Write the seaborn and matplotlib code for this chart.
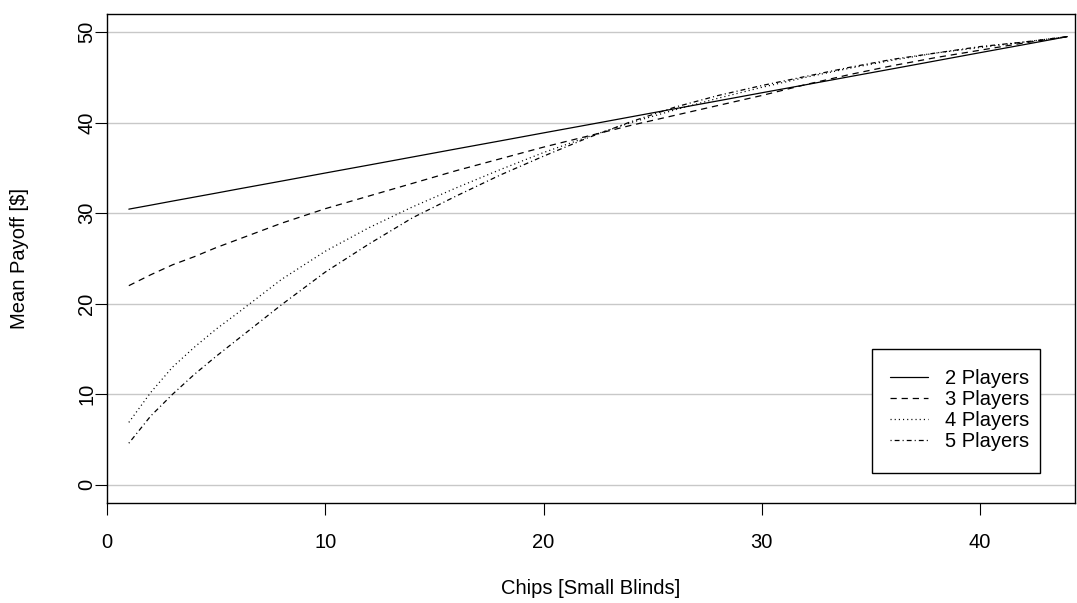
import matplotlib
matplotlib.use("Agg")
import matplotlib.pyplot as plt
from matplotlib.patches import Rectangle
import seaborn as sns
import pandas as pd

chips = [1, 2, 3, 4, 5, 6, 8, 10, 12, 14, 16, 18, 20, 22, 24, 26, 28, 30, 32, 34, 36, 38, 40, 42, 44]
payoff_2p = [30.45, 30.89, 31.34, 31.78, 32.22, 32.67, 33.55, 34.44, 35.32, 36.21, 37.10, 37.98, 38.87,
             39.75, 40.64, 41.53, 42.41, 43.30, 44.18, 45.07, 45.95, 46.84, 47.73, 48.61, 49.50]
payoff_3p = [22.0, 23.2, 24.3, 25.2, 26.2, 27.1, 28.9, 30.5, 31.9, 33.3, 34.7, 36.0, 37.3, 38.5, 39.7,
             40.8, 41.9, 43.0, 44.2, 45.3, 46.3, 47.2, 48.0, 48.8, 49.5]
payoff_4p = [6.9, 10.2, 13.0, 15.2, 17.2, 19.0, 22.7, 25.8, 28.4, 30.7, 32.8, 34.8, 36.7, 38.4, 40.0,
             41.4, 42.7, 43.9, 45.0, 46.0, 46.9, 47.7, 48.3, 48.9, 49.5]
payoff_5p = [4.6, 7.6, 10.0, 12.2, 14.2, 16.1, 19.9, 23.5, 26.6, 29.5, 31.9, 34.2, 36.3, 38.3, 40.1,
             41.7, 43.0, 44.1, 45.1, 46.1, 47.0, 47.7, 48.4, 48.9, 49.5]
series_labels = ["2 Players", "3 Players", "4 Players", "5 Players"]
y_ticks = [0, 10, 20, 30, 40, 50]
x_ticks = [0, 10, 20, 30, 40]

sns.set_style("white")
plt.rcParams['font.family'] = ['Liberation Sans', 'DejaVu Sans']
plt.rcParams['lines.scale_dashes'] = False
plt.rcParams['text.color'] = 'black'
plt.rcParams['axes.labelcolor'] = 'black'
plt.rcParams['xtick.color'] = 'black'
plt.rcParams['ytick.color'] = 'black'

FS = 14.5
W, H = 1077, 603

fig = plt.figure(figsize=(10.77, 6.03), dpi=100)
ax = fig.add_axes([107/W, 1 - 503/H, (1075 - 107)/W, (503 - 14)/H])

styles = ['-', (0, (4.5, 3.5)), (0, (0.8, 2.2)), (0, (0.8, 2.2, 3.5, 2.2))]
all_series = [payoff_2p, payoff_3p, payoff_4p, payoff_5p]

for yv in y_ticks:
    ax.axhline(yv, color='#c8c8c8', lw=1.0, zorder=0)

for vals, lab, ls in zip(all_series, series_labels, styles):
    df = pd.DataFrame({"chips": chips, "payoff": vals})
    sns.lineplot(data=df, x="chips", y="payoff", ax=ax, color='black', lw=0.9,
                 linestyle=ls, label=lab, zorder=3)

ax.set_xlim(0, 44.35)
ax.set_ylim(-2, 52)
ax.set_xticks(x_ticks)
ax.set_yticks(y_ticks)
ax.set_xticklabels([str(v) for v in x_ticks])
ax.set_yticklabels([str(v) for v in y_ticks], rotation=90, va='center')
ax.tick_params(axis='both', which='major', direction='out', length=8.5, width=0.8,
               color='black', labelcolor='black', labelsize=FS, bottom=True, left=True)
ax.tick_params(axis='x', pad=13)
ax.tick_params(axis='y', pad=-0.8)
for sp in ax.spines.values():
    sp.set_visible(True)
    sp.set_color('black')
    sp.set_linewidth(1.0)

ax.set_xlabel("Chips [Small Blinds]", fontsize=FS, color='black')
ax.set_ylabel("Mean Payoff [$]", fontsize=FS, color='black')
ax.xaxis.set_label_coords(0.5, -(579 - 503) / 489)
ax.yaxis.set_label_coords((29 - 107) / 968, 0.5)

# legend frame (R-style box)
frame = Rectangle((872/W, 1 - 473/H), 168/W, 124/H, transform=fig.transFigure,
                  facecolor='white', edgecolor='black', lw=1.0, zorder=4, clip_on=False)
ax.add_patch(frame)

leg = ax.legend(loc='upper left', bbox_to_anchor=(890/W, 1 - 369/H),
                bbox_transform=fig.transFigure, borderaxespad=0, fontsize=FS,
                frameon=False, handlelength=1.9, handletextpad=0.85,
                borderpad=0, labelspacing=0.1)
leg.set_zorder(5)
for t in leg.get_texts():
    t.set_color('black')

fig.savefig("out.png", dpi=100, facecolor='white')
